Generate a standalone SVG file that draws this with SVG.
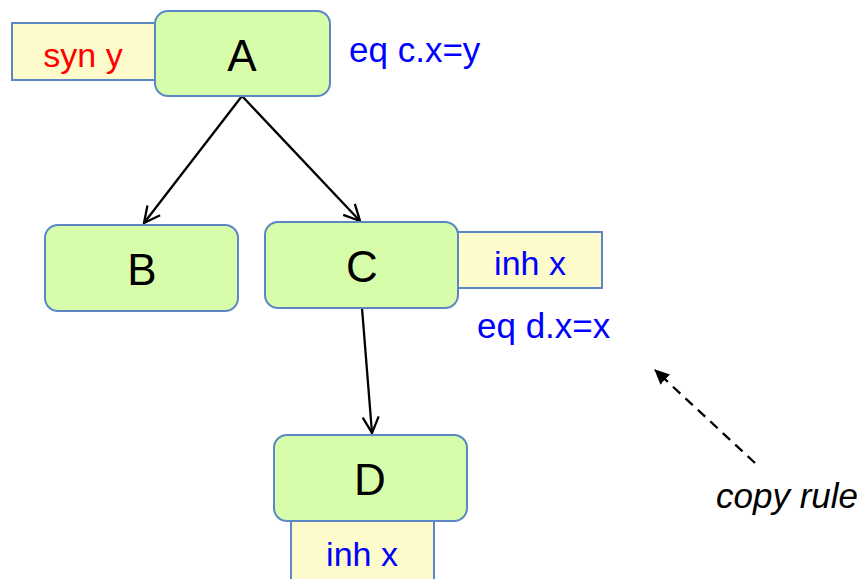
<svg xmlns="http://www.w3.org/2000/svg" width="865" height="579" viewBox="0 0 865 579">
<style>
.node{fill:#d8fdaa;stroke:#5b87c5;stroke-width:2}
.attr{fill:#fdfbcb;stroke:#5b87c5;stroke-width:2}
.lbl{font-family:"Liberation Sans",Arial,sans-serif;font-size:44px;fill:#000;text-anchor:middle}
.at{font-family:"Liberation Sans",Arial,sans-serif;font-size:34px;text-anchor:middle}
.eq{font-family:"Liberation Sans",Arial,sans-serif;font-size:35px;fill:#0000ff}
.edge{stroke:#000;stroke-width:2.3;fill:none}
</style>
<defs>
<marker id="open" viewBox="0 0 20 20" refX="18" refY="10" markerWidth="20" markerHeight="20" markerUnits="userSpaceOnUse" orient="auto">
<path d="M2,2 L18,10 L2,18" fill="none" stroke="#000" stroke-width="2.3"/>
</marker>
<marker id="solid" viewBox="0 0 16 16" refX="14" refY="8" markerWidth="16" markerHeight="16" markerUnits="userSpaceOnUse" orient="auto">
<path d="M0,1 L15,8 L0,15 Z" fill="#000"/>
</marker>
</defs>
<g id="edges">
<line class="edge" x1="242" y1="96" x2="144" y2="223" marker-end="url(#open)"/>
<line class="edge" x1="242" y1="96" x2="360" y2="221" marker-end="url(#open)"/>
<line class="edge" x1="362" y1="308" x2="372" y2="433" marker-end="url(#open)"/>
<line class="edge" x1="755" y1="463" x2="655" y2="370" stroke-dasharray="10,7" marker-end="url(#solid)"/>
</g>
<g id="node-A">
<rect class="attr" x="12" y="23" width="150" height="57"/>
<text class="at" x="83" y="67" fill="#ff0000">syn y</text>
<rect class="node" x="155" y="11" width="175" height="85" rx="13"/>
<text class="lbl" x="242" y="71">A</text>
<text class="eq" x="349" y="62">eq c.x=y</text>
</g>
<g id="node-B">
<rect class="node" x="45" y="225" width="193" height="86" rx="13"/>
<text class="lbl" x="142" y="285">B</text>
</g>
<g id="node-C">
<rect class="attr" x="455" y="232" width="147" height="56"/>
<text class="at" x="530" y="275" fill="#0000ff">inh x</text>
<rect class="node" x="265" y="222" width="193" height="86" rx="13"/>
<text class="lbl" x="362" y="282">C</text>
<text class="eq" x="477" y="338">eq d.x=x</text>
</g>
<g id="node-D">
<rect class="attr" x="291" y="521" width="143" height="70"/>
<text class="at" x="362" y="566" fill="#0000ff">inh x</text>
<rect class="node" x="274" y="435" width="193" height="86" rx="13"/>
<text class="lbl" x="370" y="495">D</text>
</g>
<g id="note">
<text x="716" y="508" font-family="Liberation Sans,Arial,sans-serif" font-size="35" font-style="italic" fill="#000">copy rule</text>
</g>
</svg>
